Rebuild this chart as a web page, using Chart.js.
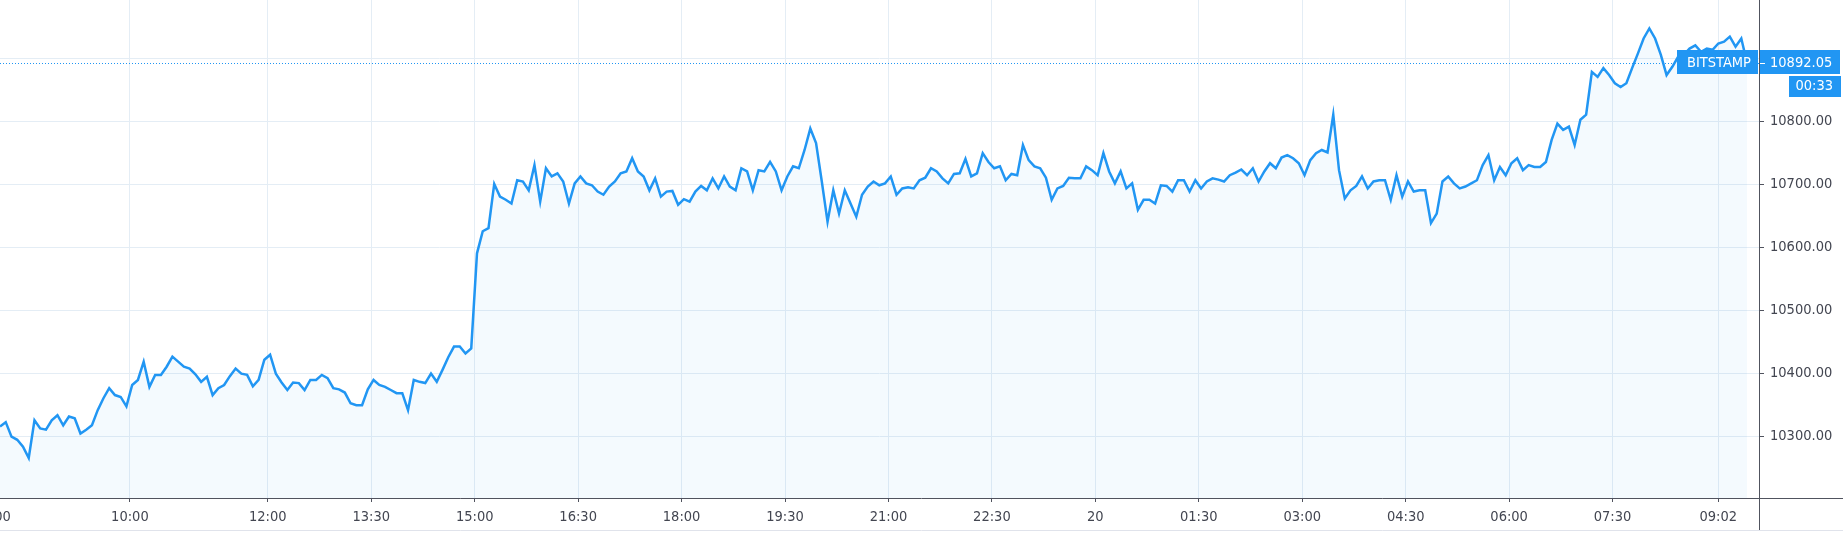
<!DOCTYPE html>
<html>
<head>
<meta charset="utf-8">
<script src="https://cdn.jsdelivr.net/npm/chart.js@4.4.1/dist/chart.umd.min.js"></script>
<style>
  html, body { margin: 0; padding: 0; background: #ffffff; overflow: hidden; }
  #wrap { width: 1843px; height: 539px; }
</style>
</head>
<body>
<div id="wrap"><canvas id="c" width="1843" height="539"></canvas></div>
<script>
// ---- data (5-minute samples, first sample at 08:07) ----
const START_MIN = 487;   // minutes after midnight of day 1 (08:07)
const STEP_MIN = 5;
const prices = [
  10315,10322,10299,10294,10283,10265,10325,10312,10310,10325,
  10333,10317,10331,10328,10304,10310,10317,10341,10360,10376,
  10365,10362,10347,10381,10389,10418,10378,10397,10397,10410,
  10426,10418,10410,10407,10398,10386,10394,10365,10376,10381,
  10395,10407,10399,10397,10379,10389,10421,10429,10399,10385,
  10373,10385,10384,10373,10389,10389,10397,10392,10376,10374,
  10369,10352,10349,10349,10374,10389,10381,10378,10373,10368,
  10368,10341,10389,10386,10384,10399,10386,10405,10425,10442,
  10442,10431,10439,10590,10625,10630,10700,10680,10675,10669,
  10706,10704,10690,10730,10672,10725,10712,10717,10704,10669,
  10701,10712,10701,10698,10688,10683,10696,10704,10717,10720,
  10741,10720,10712,10690,10709,10680,10688,10689,10667,10676,
  10672,10688,10697,10690,10709,10693,10712,10696,10690,10725,
  10720,10690,10722,10720,10735,10720,10690,10712,10728,10725,
  10754,10788,10765,10704,10640,10690,10653,10690,10669,10648,
  10683,10696,10704,10698,10701,10712,10683,10693,10695,10693,
  10706,10710,10725,10720,10709,10701,10716,10717,10740,10712,
  10717,10749,10735,10725,10728,10706,10716,10714,10762,10738,
  10728,10725,10710,10675,10693,10697,10710,10709,10709,10728,
  10722,10714,10749,10720,10701,10720,10693,10701,10659,10675,
  10675,10669,10698,10697,10688,10706,10706,10688,10706,10693,
  10704,10709,10707,10704,10714,10718,10723,10714,10725,10704,
  10720,10733,10725,10742,10746,10741,10733,10714,10738,10749,
  10754,10750,10810,10722,10677,10690,10697,10712,10693,10704,
  10706,10706,10675,10714,10680,10704,10688,10690,10690,10638,
  10653,10704,10712,10701,10693,10696,10701,10706,10730,10746,
  10706,10727,10714,10733,10741,10722,10730,10727,10727,10735,
  10770,10796,10786,10791,10762,10802,10810,10878,10870,10884,
  10873,10860,10854,10860,10884,10907,10931,10947,10931,10905,
  10873,10886,10902,10905,10915,10920,10910,10915,10913,10923,
  10926,10934,10918,10931,10892.05
];
const times = prices.map((_, i) => START_MIN + i * STEP_MIN);

// ---- axes ----
const X_MIN = 487, X_MAX = 2017.4;
const Y_MIN = 10201.6, Y_MAX = 10992.1;
const xTickValues = [480, 600, 720, 810, 900, 990, 1080, 1170, 1260, 1350, 1440, 1530, 1620, 1710, 1800, 1890, 1982];
const xTickLabels = ['08:00','10:00','12:00','13:30','15:00','16:30','18:00','19:30','21:00','22:30','20','01:30','03:00','04:30','06:00','07:30','09:02'];
const yTickValues = [10300, 10400, 10500, 10600, 10700, 10800, 10900];
const yLabelValues = [10300, 10400, 10500, 10600, 10700, 10800, 11000];
const symbolName = 'BITSTAMP';
const countdown = '00:33';

const FONT = '14.5px "DejaVu Sans Condensed", "Liberation Sans", sans-serif';
const TEXT = '#434651';
const BLUE = '#2196f3';
const GRID = '#e4edf5';

const lastPrice = prices[prices.length - 1];

const overlay = {
  id: 'overlay',
  beforeDatasetsDraw(chart) {
    const ctx = chart.ctx, ca = chart.chartArea, ys = chart.scales.y;
    const py = Math.round(ys.getPixelForValue(lastPrice)) + 0.5;
    ctx.save();
    ctx.strokeStyle = BLUE;
    ctx.lineWidth = 1;
    ctx.setLineDash([1, 2]);
    ctx.beginPath(); ctx.moveTo(ca.left, py); ctx.lineTo(ca.right, py); ctx.stroke();
    ctx.restore();
  },
  afterDraw(chart) {
    const ctx = chart.ctx, ca = chart.chartArea;
    const xs = chart.scales.x, ys = chart.scales.y;
    const W = chart.width;
    ctx.save();
    const line = (x1, y1, x2, y2) => { ctx.beginPath(); ctx.moveTo(x1, y1); ctx.lineTo(x2, y2); ctx.stroke(); };
    // bottom border of the time axis
    ctx.strokeStyle = '#e0e3eb'; ctx.lineWidth = 1;
    line(0, ca.bottom + 32.5, W, ca.bottom + 32.5);
    // axis lines
    ctx.strokeStyle = '#50535e';
    line(0, ca.bottom + 0.5, W, ca.bottom + 0.5);
    line(ca.right + 0.5, 0, ca.right + 0.5, ca.bottom + 32);

    ctx.font = FONT;
    ctx.fillStyle = TEXT;
    // time labels
    ctx.textAlign = 'center'; ctx.textBaseline = 'middle';
    xTickValues.forEach((v, i) => {
      ctx.fillText(xTickLabels[i], xs.getPixelForValue(v), ca.bottom + 19);
    });
    // price labels
    ctx.textAlign = 'left';
    yLabelValues.forEach(v => {
      ctx.fillText(v.toFixed(2), ca.right + 11, ys.getPixelForValue(v));
    });

    // last price marker
    const py = Math.round(ys.getPixelForValue(lastPrice));
    const top = py - 13, h = 24;
    ctx.fillStyle = BLUE;
    ctx.fillRect(ca.right - 82, top, 81, h);
    ctx.fillRect(ca.right + 1, top, W - ca.right - 4, h);
    ctx.fillRect(W - 54, top + h + 2, 52, 21);
    ctx.strokeStyle = '#ffffff';
    line(ca.right + 1, py + 0.5, ca.right + 6, py + 0.5);
    ctx.fillStyle = '#ffffff';
    ctx.textAlign = 'left';
    ctx.fillText(symbolName, ca.right - 72, py);
    ctx.fillText(lastPrice.toFixed(2), ca.right + 11, py);
    ctx.textAlign = 'right';
    ctx.fillText(countdown, W - 10, top + h + 12.5);
    ctx.restore();
  }
};

new Chart(document.getElementById('c'), {
  type: 'line',
  data: {
    datasets: [{
      data: times.map((t, i) => ({ x: t, y: prices[i] })),
      borderColor: BLUE,
      borderWidth: 2.5,
      borderJoinStyle: 'miter',
      backgroundColor: 'rgba(33,150,243,0.05)',
      fill: 'start',
      pointRadius: 0,
      tension: 0
    }]
  },
  options: {
    responsive: false,
    animation: false,
    devicePixelRatio: 1,
    layout: { padding: 0 },
    plugins: { legend: { display: false }, tooltip: { enabled: false } },
    scales: {
      x: {
        type: 'linear', position: 'bottom', min: X_MIN, max: X_MAX,
        afterBuildTicks: s => { s.ticks = xTickValues.map(v => ({ value: v })); },
        afterFit: s => { s.height = 41; },
        ticks: { display: false },
        grid: { color: GRID, lineWidth: 1, drawTicks: true, tickLength: 4, tickColor: '#50535e' },
        border: { display: false }
      },
      y: {
        type: 'linear', position: 'right', min: Y_MIN, max: Y_MAX,
        afterBuildTicks: s => { s.ticks = yTickValues.map(v => ({ value: v })); },
        afterFit: s => { s.width = 84; },
        ticks: { display: false },
        grid: { color: GRID, lineWidth: 1, drawTicks: true, tickLength: 5, tickColor: '#50535e' },
        border: { display: false }
      }
    }
  },
  plugins: [overlay]
});
</script>
</body>
</html>
